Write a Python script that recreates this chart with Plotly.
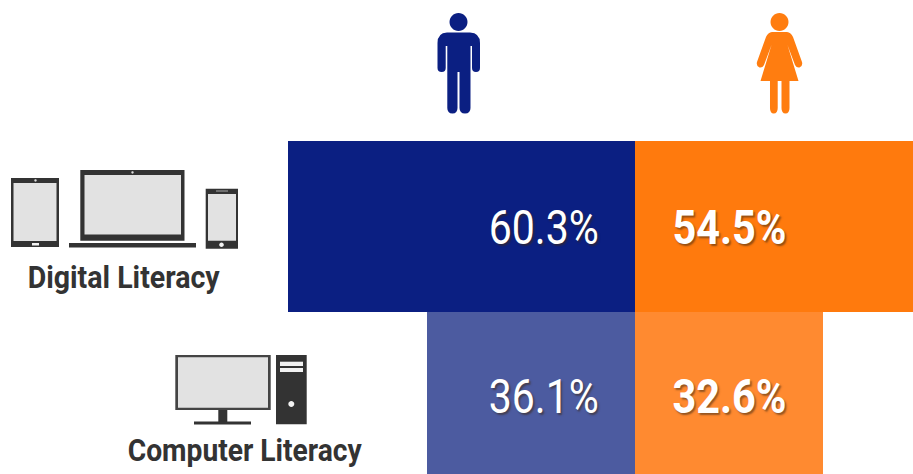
import json
import re

import plotly.graph_objects as go

# Survey results by literacy type and gender (percent)
categories = ["Digital Literacy", "Computer Literacy"]
men_values = [60.3, 36.1]
women_values = [54.5, 32.6]

men_colors = ["#0B1F82", "#4C5BA0"]
women_colors = ["#FF7A0D", "#FF8A30"]

W, H = 913, 474
DARK = "#333333"
SCREEN = "#E2E2E2"


def px(path):
    """Convert a path written in page pixels to paper coordinates."""
    out, is_x = [], True
    for tok in re.findall(r"[A-Za-z]|-?\d+\.?\d*", path):
        if tok.isalpha():
            out.append(tok)
            is_x = True
        else:
            v = float(tok)
            out.append(f"{v / W:.5f}" if is_x else f"{1 - v / H:.5f}")
            is_x = not is_x
    return " ".join(out)


def icon(path, fill):
    return dict(type="path", xref="paper", yref="paper", path=px(path),
                fillcolor=fill, line=dict(width=0), layer="above")


def box(x0, y0, x1, y1, fill):
    return icon(f"M {x0} {y0} L {x1} {y0} L {x1} {y1} L {x0} {y1} Z", fill)


def dot(cx, cy, r, fill):
    k = 0.552 * r
    return icon(
        f"M {cx - r} {cy} C {cx - r} {cy - k} {cx - k} {cy - r} {cx} {cy - r} "
        f"C {cx + k} {cy - r} {cx + r} {cy - k} {cx + r} {cy} "
        f"C {cx + r} {cy + k} {cx + k} {cy + r} {cx} {cy + r} "
        f"C {cx - k} {cy + r} {cx - r} {cy + k} {cx - r} {cy} Z", fill)


NAVY = "#0B1F82"
ORANGE = "#FF7D10"

man = [
    dot(458.5, 22, 9, NAVY),
    icon("M 447 32.5 L 470 32.5 Q 480 33 480 43 L 480 68 Q 480 72 476 72 Q 472 72 472 68 "
         "L 472 46 L 470.5 46 L 470.5 108 Q 470.5 113.5 465 113.5 Q 459.5 113.5 459.5 108 "
         "L 459.5 72 L 457.5 72 L 457.5 108 Q 457.5 113.5 452.5 113.5 Q 447.3 113.5 447.3 108 "
         "L 447.3 46 L 445.7 46 L 445.7 68 Q 445.7 72 441.7 72 Q 437.5 72 437.5 68 "
         "L 437.5 43 Q 437.5 33 447 32.5 Z", NAVY),
]

woman = [
    dot(779.5, 22, 9, ORANGE),
    icon("M 772 32 L 787 32 Q 791 32.5 793 37 L 802 62 Q 803 66 799.5 67.5 Q 796.5 68 795 65 "
         "L 787.5 45 L 798.5 81 L 789.5 81 L 789.5 108 Q 789.5 113.5 785.5 113.5 "
         "Q 781.5 113.5 781.5 108 L 781.5 81 L 777.7 81 L 777.7 108 Q 777.7 113.5 773.7 113.5 "
         "Q 770 113.5 770 108 L 770 81 L 760.5 81 L 771.5 45 L 764 65 Q 762.5 68 759.5 67.5 "
         "Q 756 66 757 62 L 766 37 Q 768 32.5 772 32 Z", ORANGE),
]

tablet = [
    box(11, 178, 59, 247, DARK),
    box(13.5, 183, 56.5, 241, SCREEN),
    dot(35.5, 180.5, 1.2, "#DDDDDD"),
    box(32, 243, 39, 245.5, "#F2F2F2"),
]

laptop = [
    box(80.3, 170, 184.5, 240.7, DARK),
    box(84.5, 175, 181, 234.5, SCREEN),
    dot(132.5, 172.5, 1.2, "#DDDDDD"),
    box(69, 243, 196, 247.5, DARK),
]

phone = [
    box(205.7, 188.7, 238, 248.7, DARK),
    box(208, 194, 236, 240.7, SCREEN),
    box(216, 190.3, 228, 191.7, "#888888"),
    dot(221.5, 244.8, 2.3, "#F2F2F2"),
]

desktop = [
    box(175.3, 355, 270.7, 410, "#444444"),
    box(178, 357.3, 268, 407.7, SCREEN),
    box(218.3, 410, 227.3, 422.5, DARK),
    box(194, 421.5, 251, 424.5, DARK),
    box(276, 355, 306.7, 424.3, DARK),
    box(280, 361.7, 303, 366, "#F2F2F2"),
    box(280, 368, 303, 372, "#F2F2F2"),
    dot(291.3, 404, 3, "#F2F2F2"),
]

fig = go.Figure()
fig.add_bar(y=categories, x=[-v for v in men_values], orientation="h", width=1,
            marker=dict(color=men_colors, line=dict(width=0)), showlegend=False)
fig.add_bar(y=categories, x=women_values, orientation="h", width=1,
            marker=dict(color=women_colors, line=dict(width=0)), showlegend=False)


def value_label(row, value, shift, lift, bold):
    return dict(
        x=0, y=row, xref="x", yref="y", text=f"{value}%", showarrow=False,
        xanchor="center", yanchor="middle", xshift=shift, yshift=lift,
        font=dict(family="Roboto", size=49, color="white",
                  weight=700 if bold else 400,
                  shadow="2px 2px 2px rgba(60,40,20,0.55)"),
    )


annotations = []
for i, cat in enumerate(categories):
    lift = -1 if i == 0 else 1
    annotations.append(value_label(cat, men_values[i], -91.5, lift, False))
    annotations.append(value_label(cat, women_values[i], 94, lift, True))

annotations += [
    dict(x=124 / W, y=1 - 277 / H, xref="paper", yref="paper", text=categories[0],
         showarrow=False, xanchor="center", yanchor="middle",
         font=dict(family="Roboto", size=32, color=DARK, weight=700)),
    dict(x=245 / W, y=1 - 449.5 / H, xref="paper", yref="paper", text=categories[1],
         showarrow=False, xanchor="center", yanchor="middle",
         font=dict(family="Roboto", size=32, color=DARK, weight=700)),
]

fig.update_layout(
    width=W, height=H, margin=dict(l=0, r=0, t=0, b=0),
    paper_bgcolor="white", plot_bgcolor="white",
    barmode="overlay", bargap=0,
    xaxis=dict(range=[-110.24, 48.26], visible=False, fixedrange=True),
    yaxis=dict(range=[1.447, -1.325], visible=False, fixedrange=True,
               categoryorder="array", categoryarray=categories),
    annotations=annotations,
    shapes=man + woman + tablet + laptop + phone + desktop,
)

# No condensed face is installed, so the labels are narrowed to their set widths
text_widths = {"60.3%": 110, "36.1%": 110, "54.5%": 114, "32.6%": 114,
               "Digital Literacy": 192, "Computer Literacy": 234}
narrow_text = (
    "var w = " + json.dumps(text_widths) + ";"
    "document.querySelectorAll('.annotation-text').forEach(function (t) {"
    "  var n = w[t.textContent];"
    "  if (n) { t.setAttribute('textLength', n);"
    "           t.setAttribute('lengthAdjust', 'spacingAndGlyphs'); }"
    "});"
)

fig.write_html("out.html", config={"displayModeBar": False}, post_script=narrow_text)
